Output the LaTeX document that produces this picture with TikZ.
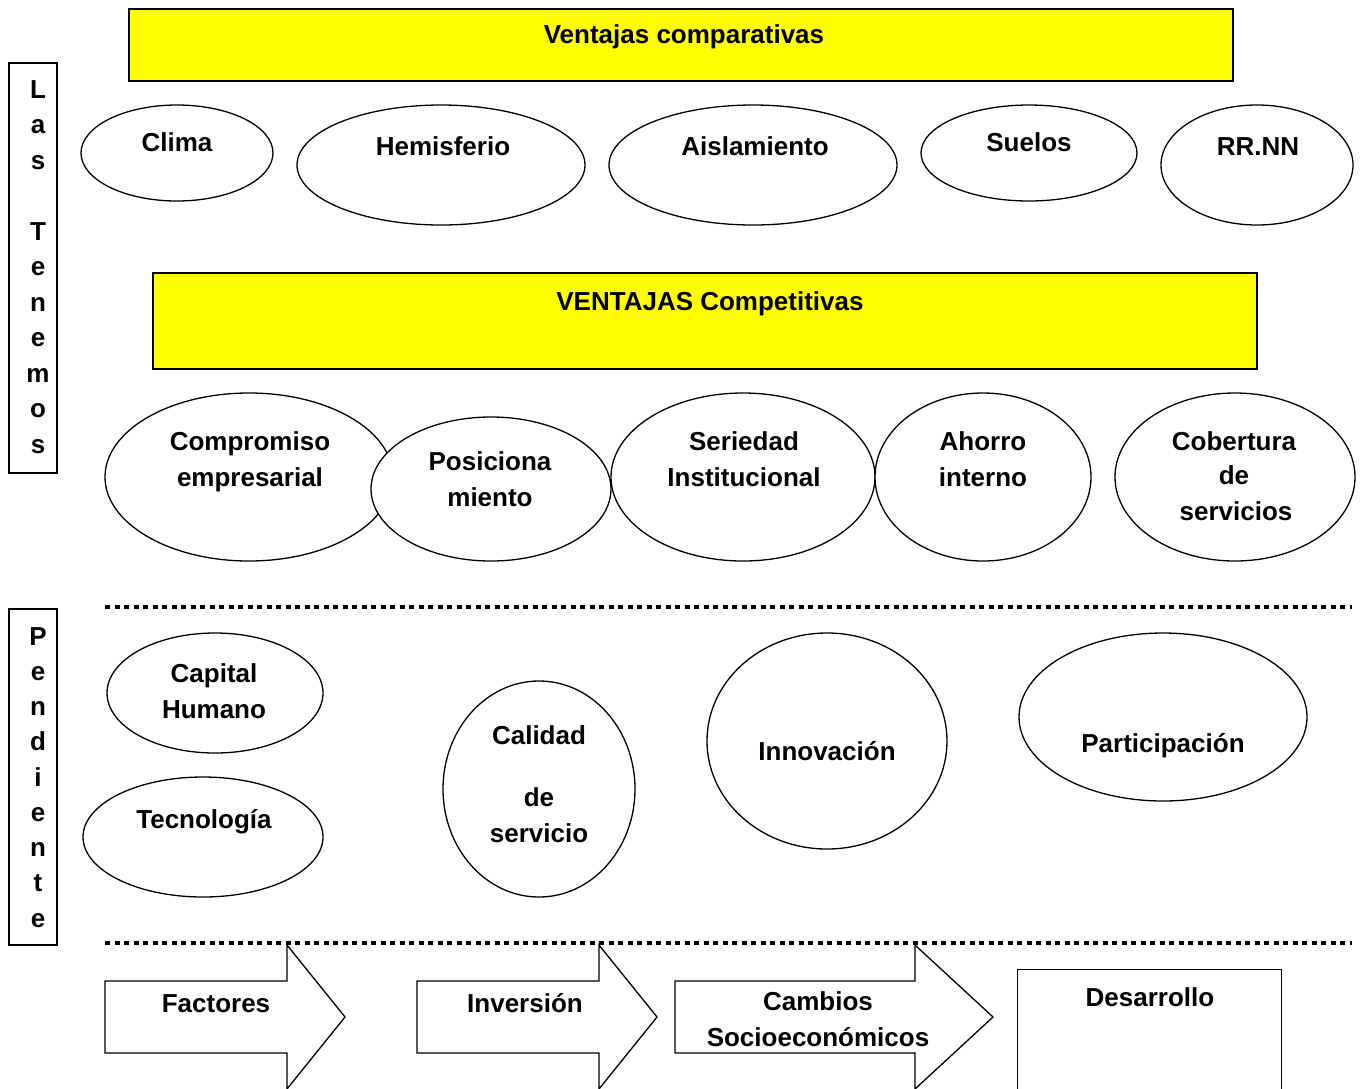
\documentclass[tikz,border=0pt]{standalone}
\usepackage{fontspec}
\setmainfont{Liberation Sans}
\usetikzlibrary{shapes.geometric}
\definecolor{pureyellow}{RGB}{255,255,0}
\begin{document}
\begin{tikzpicture}[x=1pt,y=-1pt,
  ell/.style={ellipse, draw, line width=1.3pt, fill=white, inner sep=0pt},
  lbl/.style={anchor=base, inner sep=0pt, font=\fontsize{26}{30}\selectfont\bfseries},
  ybox/.style={draw, line width=1.2pt, fill=pureyellow, inner sep=0pt},
  sbox/.style={draw, line width=1.3pt, inner sep=0pt},
  dots/.style={line width=4.5pt, dash pattern=on 5pt off 4.5pt},
  bigarrow/.style={draw, line width=1.3pt, fill=white, line join=miter}]
\useasboundingbox (0,0) rectangle (1361,1088);
\clip (0,0) rectangle (1361,1088);
\fill[white] (0,0) rectangle (1361,1088);

% yellow boxes
\node[ybox, minimum width=1104pt, minimum height=72pt] (vcompbox) at (681,45) {};
\node[lbl] (vcomp) at (684,43) {Ventajas comparativas};
\node[ybox, minimum width=1104pt, minimum height=96pt] (vcompetbox) at (705,321) {};
\node[lbl] (vcompet) at (710,310) {VENTAJAS Competitivas};

% left boxes
\node[sbox, minimum width=48pt, minimum height=410pt] (tenbox) at (33,268) {};
\foreach \ch [count=\i] in {L,a,s,{},T,e,n,e,m,o,s}
  \node[lbl] (ten\i) at (38,98+35.5*\i-35.5) {\ch};
\node[sbox, minimum width=48pt, minimum height=336pt] (penbox) at (33,777) {};
\foreach \ch [count=\i] in {P,e,n,d,i,e,n,t,e}
  \node[lbl] (pen\i) at (38,645+35.25*\i-35.25) {\ch};

% row 1
\node[ell, minimum width=192pt, minimum height=96pt] (clima) at (177,153) {};
\node[lbl] (climat) at (177,151) {Clima};
\node[ell, minimum width=288pt, minimum height=120pt] (hemis) at (441,165) {};
\node[lbl] (hemist) at (443,155) {Hemisferio};
\node[ell, minimum width=288pt, minimum height=120pt] (aisl) at (753,165) {};
\node[lbl] (aislt) at (755,155) {Aislamiento};
\node[ell, minimum width=216pt, minimum height=96pt] (suelos) at (1029,153) {};
\node[lbl] (suelost) at (1029,151) {Suelos};
\node[ell, minimum width=192pt, minimum height=120pt] (rrnn) at (1257,165) {};
\node[lbl] (rrnnt) at (1258,155) {RR.NN};

% row 2
\node[ell, minimum width=288pt, minimum height=168pt] (comp) at (249,477) {};
\node[lbl] (comp1) at (250,450) {Compromiso};
\node[lbl] (comp2) at (250,486) {empresarial};
\node[ell, minimum width=240pt, minimum height=144pt] (pos) at (491,489) {};
\node[lbl] (pos1) at (490,470) {Posiciona};
\node[lbl] (pos2) at (490,506) {miento};
\node[ell, minimum width=264pt, minimum height=168pt] (ser) at (743,477) {};
\node[lbl] (ser1) at (744,450) {Seriedad};
\node[lbl] (ser2) at (744,486) {Institucional};
\node[ell, minimum width=216pt, minimum height=168pt] (aho) at (983,477) {};
\node[lbl] (aho1) at (983,450) {Ahorro};
\node[lbl] (aho2) at (983,486) {interno};
\node[ell, minimum width=240pt, minimum height=168pt] (cob) at (1235,477) {};
\node[lbl] (cob1) at (1234,450) {Cobertura};
\node[lbl] (cob2) at (1234,484) {de};
\node[lbl] (cob3) at (1236,520) {servicios};

% dotted lines
\coordinate (d1a) at (105,607); \coordinate (d1b) at (1352,607);
\draw[dots] (d1a) -- (d1b);
\coordinate (d2a) at (105,943); \coordinate (d2b) at (1352,943);
\draw[dots] (d2a) -- (d2b);

% row 3
\node[ell, minimum width=216pt, minimum height=120pt] (cap) at (215,693) {};
\node[lbl] (cap1) at (214,682) {Capital};
\node[lbl] (cap2) at (214,718) {Humano};
\node[ell, minimum width=240pt, minimum height=120pt] (tec) at (203,837) {};
\node[lbl] (tect) at (204,828) {Tecnología};
\node[ell, minimum width=192pt, minimum height=216pt] (cal) at (539,789) {};
\node[lbl] (cal1) at (539,744) {Calidad};
\node[lbl] (cal2) at (539,806) {de};
\node[lbl] (cal3) at (539,842) {servicio};
\node[ell, minimum width=240pt, minimum height=216pt] (inn) at (827,741) {};
\node[lbl] (innt) at (827,760) {Innovación};
\node[ell, minimum width=288pt, minimum height=168pt] (par) at (1163,717) {};
\node[lbl] (part) at (1163,752) {Participación};

% bottom arrows
\draw[bigarrow] (105,981) -- (287,981) -- (287,945) -- (345,1017) -- (287,1089) -- (287,1053) -- (105,1053) -- cycle;
\node[lbl] (fact) at (216,1012) {Factores};
\draw[bigarrow] (417,981) -- (599,981) -- (599,945) -- (657,1017) -- (599,1089) -- (599,1053) -- (417,1053) -- cycle;
\node[lbl] (inv) at (525,1012) {Inversión};
\draw[bigarrow] (675,981) -- (915,981) -- (915,945) -- (993,1017) -- (915,1089) -- (915,1053) -- (675,1053) -- cycle;
\node[lbl] (camb1) at (818,1010) {Cambios};
\node[lbl] (camb2) at (818,1046) {Socioeconómicos};
\node[sbox, minimum width=264pt, minimum height=130pt, anchor=north west] (desbox) at (1017,969) {};
\node[lbl] (des) at (1150,1006) {Desarrollo};
\end{tikzpicture}
\end{document}
